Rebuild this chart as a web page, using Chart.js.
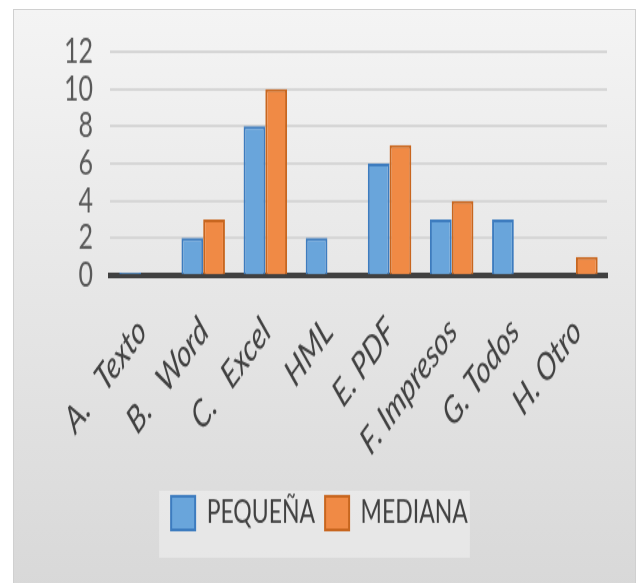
<!DOCTYPE html>
<html>
<head>
<meta charset="utf-8">
<script src="https://cdn.jsdelivr.net/npm/chart.js@4"></script>
<style>
  html, body { margin: 0; padding: 0; background: #fff; width: 639px; height: 583px; overflow: hidden; }
  #panel {
    position: absolute; left: 13px; top: 9px; width: 621px; height: 580px;
    border: 1px solid #d0d0d0;
    background: linear-gradient(#f4f4f4, #d8d8d8);
  }
  /* the source picture is stretched vertically, so the canvas is too */
  #chart { position: absolute; left: 0; top: 0; transform: scaleY(1.398); transform-origin: 0 0; }
</style>
</head>
<body>
<div id="panel"></div>
<canvas id="chart" width="639" height="417"></canvas>
<script>
const categories = ['A.   Texto', 'B.   Word', 'C.   Excel', 'HML', 'E. PDF', 'F. Impresos', 'G. Todos', 'H. Otro']
const pequena = [0, 2, 8, 2, 6, 3, 3, null]
const mediana = [null, 3, 10, null, 7, 4, null, 1]
const yTicks = [0, 2, 4, 6, 8, 10, 12]

Chart.defaults.font.family = 'Lato'

// light box behind the legend, like the original
const legendBox = {
    id: 'legendBox',
    beforeDraw(chart) {
        const boxes = chart.legend.legendHitBoxes
        if (!boxes || !boxes.length) return
        const first = boxes[0]
        const last = boxes[boxes.length - 1]
        const ctx = chart.ctx
        ctx.save()
        ctx.fillStyle = 'rgba(255, 255, 255, 0.35)'
        ctx.fillRect(first.left - 12, first.top - 4, last.left + last.width - first.left + 14, first.height + 24)
        ctx.restore()
    }
}

const ctx = document.getElementById('chart')
const chart = new Chart(ctx, {
    type: 'bar',
    data: {
        labels: categories,
        datasets: [{
            label: 'PEQUEÑA',
            data: pequena,
            backgroundColor: '#69a5db',
            borderColor: '#3d7cbf',
            borderWidth: 2,
            minBarLength: 2,
        },
        {
            label: 'MEDIANA',
            data: mediana,
            backgroundColor: '#f08a45',
            borderColor: '#c8661f',
            borderWidth: 2,
        }]
    },
    options: {
        responsive: false,
        animation: false,
        layout: { padding: { top: 37, right: 32, left: 32, bottom: 28 } },
        datasets: { bar: { categoryPercentage: 0.7, barPercentage: 1 } },
        scales: {
            x: {
                grid: { display: false },
                border: { color: '#404040', width: 4 },
                ticks: {
                    color: '#404040',
                    font: { size: 27, style: 'italic' },
                    minRotation: 45,
                    maxRotation: 45,
                    autoSkip: false,
                    padding: 16,
                    labelOffset: 1,
                },
                afterFit: s => { s.height = 148 }
            },
            y: {
                min: yTicks[0],
                max: yTicks[yTicks.length - 1],
                ticks: { stepSize: yTicks[1] - yTicks[0], autoSkip: false, color: '#595959', font: { size: 25 }, padding: 17 },
                grid: { color: '#d6d6d6', lineWidth: 2, drawTicks: false },
                border: { display: false },
                afterFit: s => { s.width = 78 }
            }
        },
        plugins: {
            legend: {
                position: 'bottom',
                labels: { boxWidth: 24, boxHeight: 24, color: '#404040', font: { size: 23 }, padding: 10 }
            },
            tooltip: { enabled: false }
        }
    },
    plugins: [legendBox]
})
</script>
</body>
</html>
